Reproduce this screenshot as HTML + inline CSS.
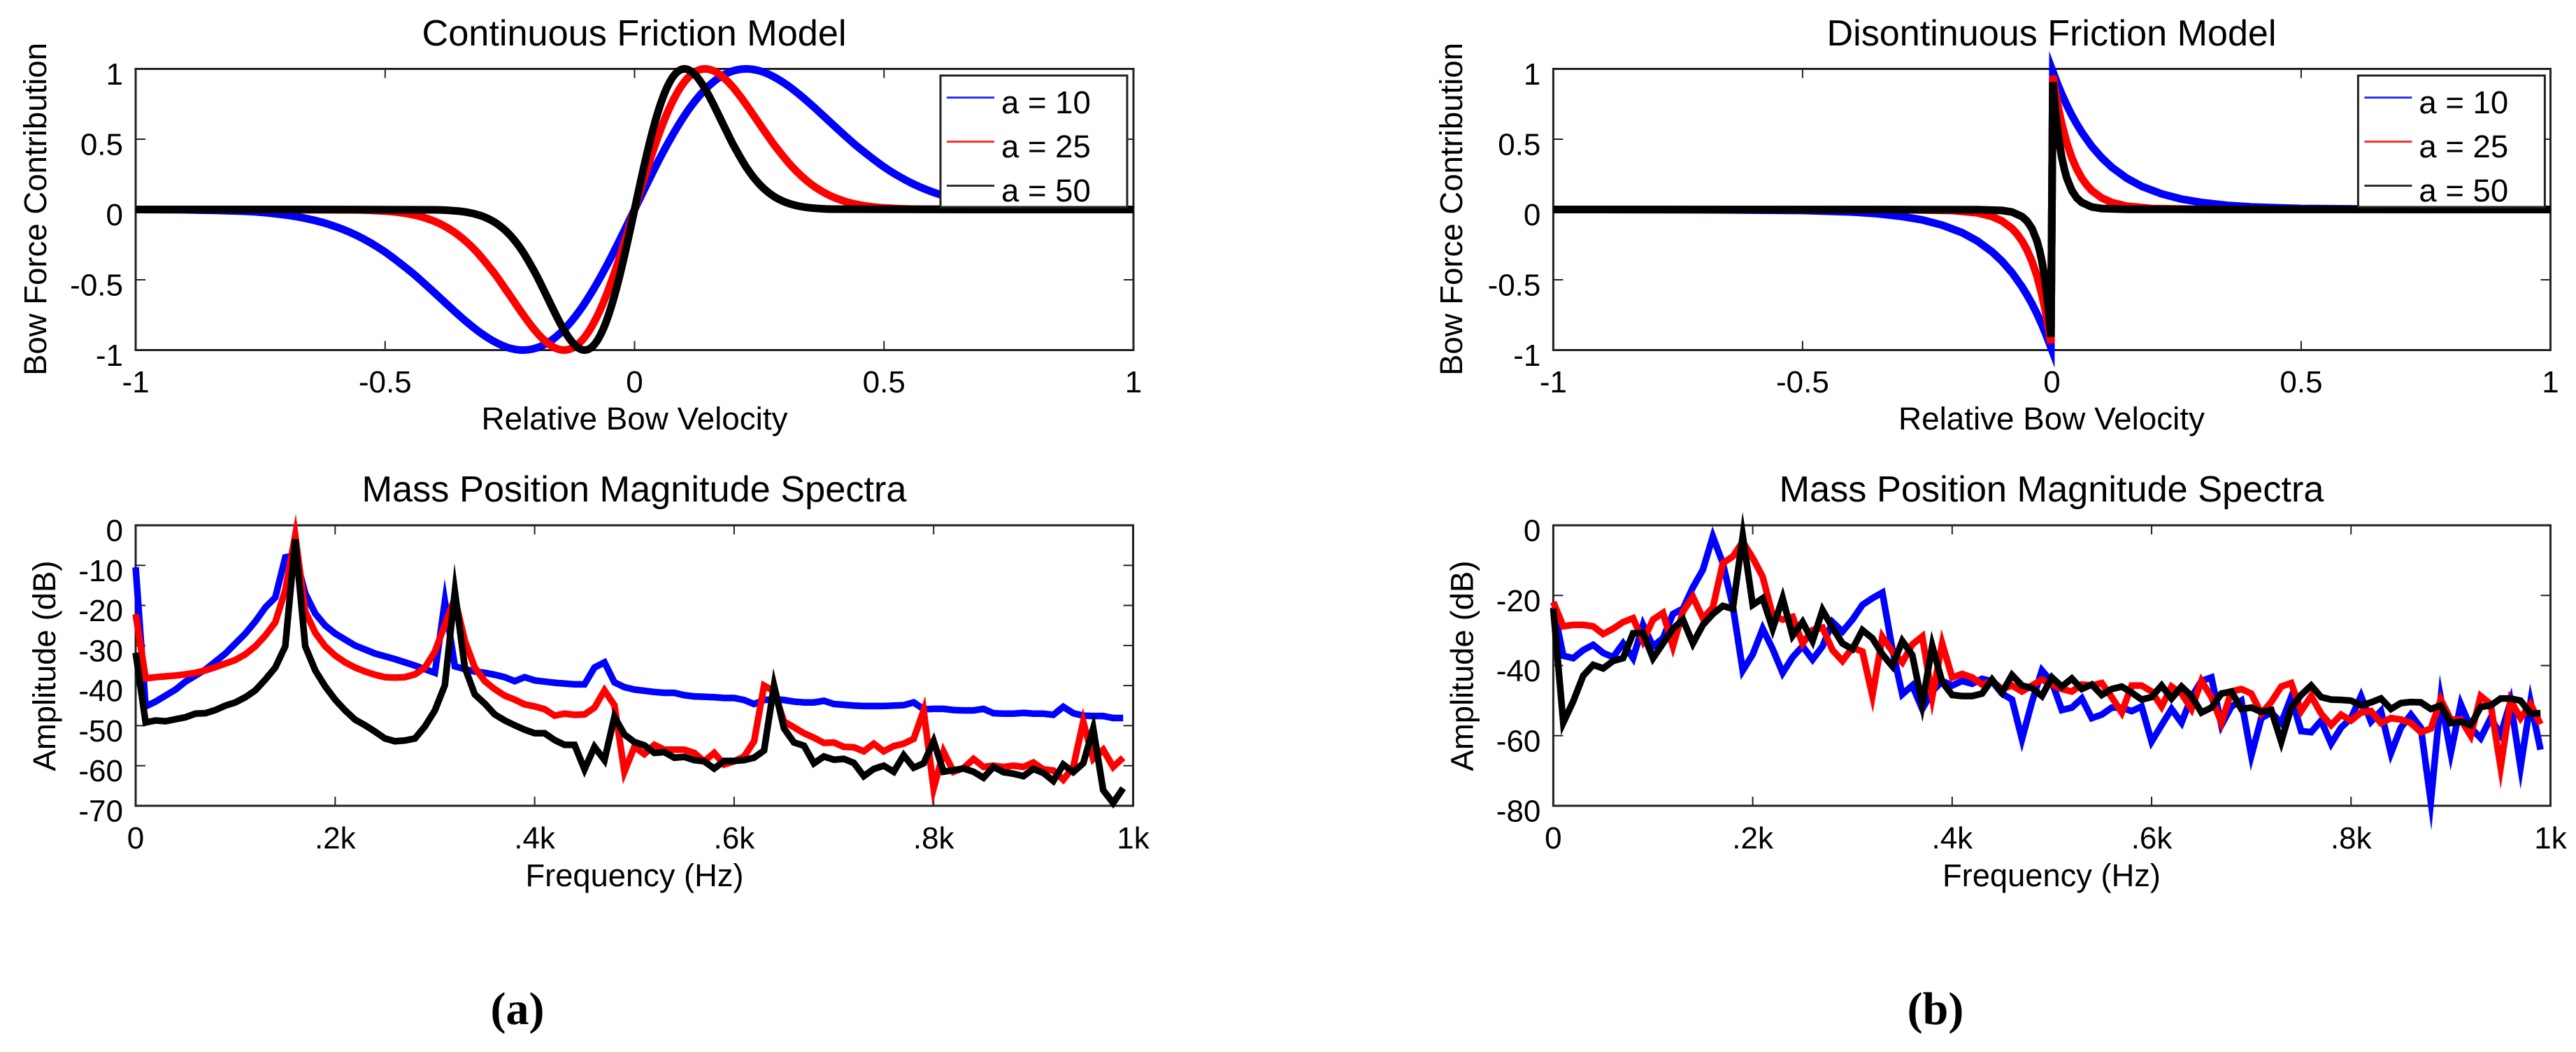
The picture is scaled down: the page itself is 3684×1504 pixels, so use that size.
<!DOCTYPE html>
<html lang="en">
<head>
<meta charset="utf-8">
<title>Friction Model Comparison</title>
<style>
html,body{margin:0;padding:0;background:#fff;width:3684px;height:1504px;overflow:hidden}
svg{display:block}
text{font-family:"Liberation Sans",Arial,sans-serif;fill:#000}
.title{font-size:52px;text-anchor:middle}
.axis-label{font-size:45.5px;text-anchor:middle}
.tick{font-size:44px}
.legend-text{font-size:45.5px}
.caption{font-family:"Liberation Serif",serif;font-weight:bold;font-size:66px;text-anchor:middle}
</style>
</head>
<body>
<svg id="figure" xmlns="http://www.w3.org/2000/svg" width="3684" height="1504" viewBox="0 0 3684 1504">
  <rect x="0" y="0" width="3684" height="1504" fill="#fff"/>

  <g id="plot-a-top"></g>
  <g id="plot-b-top"></g>
  <g id="plot-a-bottom"></g>
  <g id="plot-b-bottom"></g>

  <text class="title" x="907" y="65" textLength="607" lengthAdjust="spacingAndGlyphs">Continuous Friction Model</text>
  <text class="title" x="2934" y="65" textLength="643" lengthAdjust="spacingAndGlyphs">Disontinuous Friction Model</text>
  <text class="title" x="907" y="717" textLength="779" lengthAdjust="spacingAndGlyphs">Mass Position Magnitude Spectra</text>
  <text class="title" x="2934" y="717" textLength="779" lengthAdjust="spacingAndGlyphs">Mass Position Magnitude Spectra</text>

  <text class="axis-label" x="907.5" y="614" textLength="438" lengthAdjust="spacingAndGlyphs">Relative Bow Velocity</text>
  <text class="axis-label" x="2934" y="614" textLength="438" lengthAdjust="spacingAndGlyphs">Relative Bow Velocity</text>
  <text class="axis-label" x="907.5" y="1267" textLength="312" lengthAdjust="spacingAndGlyphs">Frequency (Hz)</text>
  <text class="axis-label" x="2934" y="1267" textLength="312" lengthAdjust="spacingAndGlyphs">Frequency (Hz)</text>

  <text class="axis-label" transform="translate(66,299) rotate(-90)" textLength="476" lengthAdjust="spacingAndGlyphs">Bow Force Contribution</text>
  <text class="axis-label" transform="translate(2091,299) rotate(-90)" textLength="476" lengthAdjust="spacingAndGlyphs">Bow Force Contribution</text>
  <text class="axis-label" transform="translate(79,952) rotate(-90)" textLength="301" lengthAdjust="spacingAndGlyphs">Amplitude (dB)</text>
  <text class="axis-label" transform="translate(2106.5,952) rotate(-90)" textLength="301" lengthAdjust="spacingAndGlyphs">Amplitude (dB)</text>

  <g>
    <rect x="1345" y="108" width="267" height="188" fill="#fff" stroke="#222" stroke-width="3"/>
    <line x1="1354" x2="1422" y1="139.5" y2="139.5" stroke="#3030ff" stroke-width="3"/>
    <text class="legend-text" x="1432" y="162">a = 10</text>
    <line x1="1354" x2="1422" y1="202.5" y2="202.5" stroke="#ff3030" stroke-width="3"/>
    <text class="legend-text" x="1432" y="225">a = 25</text>
    <line x1="1354" x2="1422" y1="265.5" y2="265.5" stroke="#303030" stroke-width="3"/>
    <text class="legend-text" x="1432" y="288">a = 50</text>
  </g>
  <g>
    <rect x="3372.4" y="108" width="267" height="188" fill="#fff" stroke="#222" stroke-width="3"/>
    <line x1="3381.4" x2="3449.4" y1="139.5" y2="139.5" stroke="#3030ff" stroke-width="3"/>
    <text class="legend-text" x="3459.4" y="162">a = 10</text>
    <line x1="3381.4" x2="3449.4" y1="202.5" y2="202.5" stroke="#ff3030" stroke-width="3"/>
    <text class="legend-text" x="3459.4" y="225">a = 25</text>
    <line x1="3381.4" x2="3449.4" y1="265.5" y2="265.5" stroke="#303030" stroke-width="3"/>
    <text class="legend-text" x="3459.4" y="288">a = 50</text>
  </g>

  <text class="caption" x="740" y="1464">(a)</text>
  <text class="caption" x="2768" y="1464">(b)</text>
</svg>

<script>
/* ---------- tick values and labels ---------- */
const velocityTicks = [-1, -0.5, 0, 0.5, 1];
const velocityTickLabels = ['-1', '-0.5', '0', '0.5', '1'];
const forceTicks = [1, 0.5, 0, -0.5, -1];
const forceTickLabels = ['1', '0.5', '0', '-0.5', '-1'];
const frequencyTicks = [0, 200, 400, 600, 800, 1000];
const frequencyTickLabels = ['0', '.2k', '.4k', '.6k', '.8k', '1k'];
const amplitudeTicksA = [0, -10, -20, -30, -40, -50, -60, -70];
const amplitudeTickLabelsA = ['0', '-10', '-20', '-30', '-40', '-50', '-60', '-70'];
const amplitudeTicksB = [0, -20, -40, -60, -80];
const amplitudeTickLabelsB = ['0', '-20', '-40', '-60', '-80'];

/* ---------- continuous friction curves ---------- */
const contVelocityA10 = [-1,-0.8944,-0.7826,-0.7267,-0.6708,-0.6149,-0.559,-0.5031,-0.4472,-0.4193,-0.3913,-0.3634,-0.3354,-0.3075,-0.2795,-0.2516,-0.2236,-0.1957,-0.1677,-0.1398,-0.1118,-0.0839,-0.0559,-0.028,0,0.028,0.0559,0.0839,0.1118,0.1398,0.1677,0.1957,0.2236,0.2516,0.2795,0.3075,0.3354,0.3634,0.3913,0.4193,0.4472,0.5031,0.559,0.6149,0.6708,0.7267,0.7826,0.8944,1];
const contForceA10 = [0,-0.0022,-0.0126,-0.0273,-0.055,-0.1034,-0.181,-0.295,-0.446,-0.5331,-0.624,-0.7155,-0.803,-0.8808,-0.943,-0.985,-1,-0.9838,-0.9334,-0.8476,-0.7275,-0.5763,-0.3995,-0.2045,0,0.2045,0.3995,0.5763,0.7275,0.8476,0.9334,0.9838,1,0.985,0.943,0.8808,0.803,0.7155,0.624,0.5331,0.446,0.295,0.181,0.1034,0.055,0.0273,0.0126,0.0022,0];
const contVelocityA25 = [-1,-0.5657,-0.495,-0.4596,-0.4243,-0.3889,-0.3536,-0.3182,-0.2828,-0.2652,-0.2475,-0.2298,-0.2121,-0.1945,-0.1768,-0.1591,-0.1414,-0.1237,-0.1061,-0.0884,-0.0707,-0.053,-0.0354,-0.0177,0,0.0177,0.0354,0.053,0.0707,0.0884,0.1061,0.1237,0.1414,0.1591,0.1768,0.1945,0.2121,0.2298,0.2475,0.2652,0.2828,0.3182,0.3536,0.3889,0.4243,0.4596,0.495,0.5657,1];
const contForceA25 = [0,-0.0022,-0.0126,-0.0273,-0.055,-0.1034,-0.181,-0.295,-0.446,-0.5331,-0.624,-0.7155,-0.803,-0.8808,-0.943,-0.985,-1,-0.9838,-0.9334,-0.8476,-0.7275,-0.5763,-0.3995,-0.2045,0,0.2045,0.3995,0.5763,0.7275,0.8476,0.9334,0.9838,1,0.985,0.943,0.8808,0.803,0.7155,0.624,0.5331,0.446,0.295,0.181,0.1034,0.055,0.0273,0.0126,0.0022,0];
const contVelocityA50 = [-1,-0.4,-0.35,-0.325,-0.3,-0.275,-0.25,-0.225,-0.2,-0.1875,-0.175,-0.1625,-0.15,-0.1375,-0.125,-0.1125,-0.1,-0.0875,-0.075,-0.0625,-0.05,-0.0375,-0.025,-0.0125,0,0.0125,0.025,0.0375,0.05,0.0625,0.075,0.0875,0.1,0.1125,0.125,0.1375,0.15,0.1625,0.175,0.1875,0.2,0.225,0.25,0.275,0.3,0.325,0.35,0.4,1];
const contForceA50 = [0,-0.0022,-0.0126,-0.0273,-0.055,-0.1034,-0.181,-0.295,-0.446,-0.5331,-0.624,-0.7155,-0.803,-0.8808,-0.943,-0.985,-1,-0.9838,-0.9334,-0.8476,-0.7275,-0.5763,-0.3995,-0.2045,0,0.2045,0.3995,0.5763,0.7275,0.8476,0.9334,0.9838,1,0.985,0.943,0.8808,0.803,0.7155,0.624,0.5331,0.446,0.295,0.181,0.1034,0.055,0.0273,0.0126,0.0022,0];

/* ---------- discontinuous friction curves ---------- */
const discVelocityA10 = [-1,-0.7,-0.5,-0.4,-0.35,-0.3,-0.26,-0.22,-0.18,-0.15,-0.12,-0.1,-0.08,-0.06,-0.05,-0.04,-0.03,-0.02,-0.01,-0.002,0.002,0.01,0.02,0.03,0.04,0.05,0.06,0.08,0.1,0.12,0.15,0.18,0.22,0.26,0.3,0.35,0.4,0.5,0.7,1];
const discForceA10 = [0,-0.001,-0.007,-0.018,-0.03,-0.05,-0.074,-0.111,-0.165,-0.223,-0.301,-0.368,-0.449,-0.549,-0.607,-0.67,-0.741,-0.819,-0.905,-0.98,0.98,0.905,0.819,0.741,0.67,0.607,0.549,0.449,0.368,0.301,0.223,0.165,0.111,0.074,0.05,0.03,0.018,0.007,0.001,0];
const discVelocityA25 = [-1,-0.3,-0.2,-0.15,-0.12,-0.1,-0.08,-0.07,-0.06,-0.05,-0.04,-0.03,-0.02,-0.015,-0.01,-0.005,-0.002,0.002,0.005,0.01,0.015,0.02,0.03,0.04,0.05,0.06,0.07,0.08,0.1,0.12,0.15,0.2,0.3,1];
const discForceA25 = [0,-0.001,-0.007,-0.024,-0.05,-0.082,-0.135,-0.174,-0.223,-0.287,-0.368,-0.472,-0.607,-0.687,-0.779,-0.882,-0.951,0.951,0.882,0.779,0.687,0.607,0.472,0.368,0.287,0.223,0.174,0.135,0.082,0.05,0.024,0.007,0.001,0];
const discVelocityA50 = [-1,-0.15,-0.1,-0.08,-0.06,-0.05,-0.04,-0.03,-0.025,-0.02,-0.015,-0.01,-0.0075,-0.005,-0.002,0.002,0.005,0.0075,0.01,0.015,0.02,0.025,0.03,0.04,0.05,0.06,0.08,0.1,0.15,1];
const discForceA50 = [0,-0.001,-0.007,-0.018,-0.05,-0.082,-0.135,-0.223,-0.287,-0.368,-0.472,-0.607,-0.687,-0.779,-0.905,0.905,0.779,0.687,0.607,0.472,0.368,0.287,0.223,0.135,0.082,0.05,0.018,0.007,0.001,0];

/* ---------- spectra ---------- */
const spectrumFrequency = [0,10,20,30,40,50,60,70,80,90,100,110,120,130,140,150,160,170,180,190,200,210,220,230,240,250,260,270,280,290,300,310,320,330,340,350,360,370,380,390,400,410,420,430,440,450,460,470,480,490,500,510,520,530,540,550,560,570,580,590,600,610,620,630,640,650,660,670,680,690,700,710,720,730,740,750,760,770,780,790,800,810,820,830,840,850,860,870,880,890,900,910,920,930,940,950,960,970,980,990];

const spectrumContA10 = [-10.5,-45.2,-44,-42.5,-41,-39,-37.5,-36,-34,-32,
-29.5,-27,-24,-20.5,-18,-8,-7.5,-17,-22,-25,
-27,-28.5,-30,-31,-32,-32.7,-33.4,-34.2,-35,-35.9,
-36.8,-19,-35.2,-35.9,-36.5,-36.8,-37.3,-37.9,-38.9,-37.9,
-38.7,-39,-39.3,-39.5,-39.7,-39.7,-35.5,-34.2,-39.2,-40.4,
-41,-41.3,-41.6,-41.8,-41.8,-42.4,-42.7,-42.8,-42.9,-43.1,
-43.1,-43.6,-44.6,-43.6,-43.4,-43.6,-44,-44.2,-44.2,-43.8,
-44.6,-44.8,-45,-45.1,-45.1,-45.1,-45,-44.9,-44.2,-45.9,
-45.8,-45.8,-46.1,-46.2,-46.2,-45.8,-46.9,-47,-47,-46.8,
-47,-47,-47.3,-45.3,-46.9,-47.5,-47.6,-47.6,-48.1,-48.1];

const spectrumContA25 = [-22.2,-38.2,-37.9,-37.7,-37.5,-37.2,-36.8,-36.2,-35.4,-34.5,
-33.6,-32.2,-30.2,-27.5,-24.2,-16.2,-2.5,-21.5,-26.8,-30.2,
-32.5,-34.2,-35.5,-36.5,-37.3,-37.9,-38,-37.9,-37.2,-35.5,
-31.5,-24.8,-18.2,-28.8,-35.5,-38.9,-40.9,-42.5,-43.5,-44.7,
-45.2,-45.9,-47.5,-47,-47.3,-47.2,-45.5,-41.2,-44.9,-61.5,
-55.3,-57.1,-54.8,-56,-56,-56,-56.8,-58.9,-56.8,-59.7,
-58.9,-57.7,-53.9,-40,-41.4,-49,-50.4,-51.9,-53,-54.3,
-54.2,-55.3,-55.4,-56.4,-54.5,-56.4,-55.1,-54.5,-53.3,-46.2,
-65.7,-56.5,-61.5,-60.6,-58.3,-60.3,-60,-60.3,-60,-60.3,
-59.2,-60.9,-61.2,-63.5,-60.3,-49,-58.3,-56,-60.3,-58];

const spectrumContA50 = [-31.8,-49.2,-48.7,-48.9,-48.4,-47.9,-47,-46.9,-46.1,-45,
-44.2,-42.9,-41.2,-38.5,-35.5,-30.2,-3.5,-30.2,-36.2,-40.2,
-43.5,-46.2,-48.5,-49.9,-51.5,-53.2,-53.9,-53.7,-53.2,-50.2,
-46.2,-39.9,-16.5,-35.5,-42.2,-44.5,-47.2,-48.7,-49.9,-51,
-51.9,-51.9,-53.6,-54.8,-54.8,-60.9,-55.3,-58.6,-47.8,-52.2,
-54.1,-54.9,-56.8,-56.6,-58,-57.8,-58.6,-58.9,-60.7,-58.8,
-58.8,-58.6,-58,-56.2,-40,-50.7,-54.2,-55,-59.4,-57.7,
-58.5,-58.3,-59.3,-62.6,-60.8,-60,-61.5,-57.4,-60.5,-59.4,
-53.9,-61.5,-61.1,-60.7,-61.5,-63,-60.3,-61.6,-62,-62.6,
-60.8,-61.8,-63.8,-59.7,-61.6,-59.4,-50.7,-66.1,-69.3,-65.6];

const spectrumDiscA10 = [-23.4,-37.2,-37.9,-35.6,-34.1,-36.4,-37.6,-33.7,-37.9,-28.4,
-34.5,-32.2,-25.3,-23.8,-17.7,-12.7,-3.2,-10.8,-23,-41.4,
-36.8,-29.5,-35.3,-42.1,-37.6,-34.5,-38.3,-34.5,-27.6,-30.3,
-26.9,-22.7,-20.8,-19.2,-35.3,-48.2,-45.7,-52.4,-47.4,-44.4,
-45.7,-44.4,-45.2,-43.8,-44.5,-48,-49.7,-61,-50.4,-41.4,
-44.7,-52.7,-52,-49.4,-55,-54,-52,-52,-53,-51.7,
-61.7,-57,-52.4,-56.3,-49,-44.4,-43.4,-57,-51.7,-50,
-65.7,-55,-53.4,-56.4,-49,-58.7,-59,-55.7,-62.3,-57.7,
-55,-48.7,-56,-53,-65,-57.7,-54,-57.7,-78.8,-49.4,
-65,-51,-57.7,-60.7,-55,-59.7,-50.4,-69,-50.4,-64];

const spectrumDiscA25 = [-21.9,-28.8,-28.4,-28.4,-28.8,-31,-29.5,-27.6,-26.5,-33,
-26.9,-25,-34.5,-24.6,-20.4,-26.5,-23.4,-10.8,-8.9,-4.7,
-9.3,-14.7,-25.7,-26.9,-26.1,-33.7,-29.9,-29.2,-35.6,-38.7,
-34.9,-36,-48.6,-31.8,-36,-39.1,-34,-31.7,-49,-33.7,
-43.4,-42.4,-43.4,-45.4,-44.4,-46.7,-45.7,-47.4,-45.7,-44,
-45.4,-46.7,-47.4,-45.4,-45.7,-45,-49,-53.4,-45.7,-45.7,
-47.4,-51.7,-46,-48,-52.4,-44.4,-49,-56.3,-47.4,-46.7,
-48,-53.7,-50.4,-46,-45,-53,-48.7,-53.7,-57,-54,
-55.7,-53.4,-53,-56.4,-55,-55.4,-56.4,-59,-58,-49.7,
-55.4,-55.4,-60,-48.7,-51,-69,-50,-55,-51,-56.7];

const spectrumDiscA50 = [-23.8,-56.3,-50.2,-42.9,-39.8,-40.8,-38.7,-37.9,-30.8,-30.7,
-37.9,-33.7,-29.5,-26.9,-33.7,-28.4,-25.3,-23,-23.8,-3,
-22.7,-20.8,-29.5,-20.8,-31.5,-27.6,-33,-24.2,-29.2,-33.7,
-35.3,-29.9,-32.2,-36.8,-40.2,-33,-37,-51,-34.4,-44.7,
-48.4,-48.7,-48.7,-48,-44,-47.7,-42.7,-45.7,-46.4,-48.7,
-43.4,-46,-43.7,-46.7,-45.4,-48.4,-46.7,-46,-47.7,-49.7,
-49,-45.7,-49.4,-46,-48.7,-53.4,-52,-48,-47.4,-52.4,
-52,-53.2,-52.7,-61.7,-52,-48.4,-45.7,-49,-49.7,-49.8,
-50,-51.4,-50.5,-49.4,-52.4,-50.7,-50.4,-50.5,-52.4,-51.4,
-56.4,-56,-57,-51.8,-51.4,-49.4,-49.4,-50,-53.7,-53.6];

/* ---------- drawing ---------- */
const SVG_NS = 'http://www.w3.org/2000/svg';

function linearScale(d0, d1, r0, r1) {
  return function (v) { return r0 + (v - d0) * (r1 - r0) / (d1 - d0); };
}

function smoothPath(pts) {
  let d = 'M' + pts[0][0].toFixed(2) + ' ' + pts[0][1].toFixed(2);
  for (let i = 0; i < pts.length - 1; i++) {
    const p0 = pts[Math.max(0, i - 1)], p1 = pts[i], p2 = pts[i + 1], p3 = pts[Math.min(pts.length - 1, i + 2)];
    const h = p2[0] - p1[0];
    const m1 = (p2[1] - p0[1]) / Math.max(1e-6, p2[0] - p0[0]);
    const m2 = (p3[1] - p1[1]) / Math.max(1e-6, p3[0] - p1[0]);
    d += 'C' + (p1[0] + h / 3).toFixed(2) + ' ' + (p1[1] + m1 * h / 3).toFixed(2) + ' ' +
         (p2[0] - h / 3).toFixed(2) + ' ' + (p2[1] - m2 * h / 3).toFixed(2) + ' ' +
         p2[0].toFixed(2) + ' ' + p2[1].toFixed(2);
  }
  return d;
}

function straightPath(pts) {
  return 'M' + pts.map(function (p) { return p[0].toFixed(2) + ' ' + p[1].toFixed(2); }).join('L');
}

function drawAxes(group, box, xs, ys, xTicks, xLabels, yTicks, yLabels, xBase) {
  xTicks.forEach(function (t, i) {
    const px = xs(t);
    const top = document.createElementNS(SVG_NS, 'line');
    
    
    top.setAttribute('x1', px); top.setAttribute('x2', px);
    top.setAttribute('y1', box.top); top.setAttribute('y2', box.top + 13);
    top.setAttribute('stroke', '#222'); top.setAttribute('stroke-width', '2');
    group.appendChild(top);

    const bottom = document.createElementNS(SVG_NS, 'line');
    
    
    bottom.setAttribute('x1', px); bottom.setAttribute('x2', px);
    bottom.setAttribute('y1', box.bottom); bottom.setAttribute('y2', box.bottom - 13);
    bottom.setAttribute('stroke', '#222'); bottom.setAttribute('stroke-width', '2');
    group.appendChild(bottom);

    const label = document.createElementNS(SVG_NS, 'text');
    
    
    label.setAttribute('class', 'tick');
    label.setAttribute('x', px);
    label.setAttribute('y', xBase);
    label.setAttribute('text-anchor', 'middle');
    label.textContent = xLabels[i];
    group.appendChild(label);
  });

  yTicks.forEach(function (t, i) {
    const py = ys(t);
    const left = document.createElementNS(SVG_NS, 'line');
    
    
    left.setAttribute('x1', box.left); left.setAttribute('x2', box.left + 14);
    left.setAttribute('y1', py); left.setAttribute('y2', py);
    left.setAttribute('stroke', '#222'); left.setAttribute('stroke-width', '2');
    group.appendChild(left);

    const right = document.createElementNS(SVG_NS, 'line');
    
    
    right.setAttribute('x1', box.right); right.setAttribute('x2', box.right - 14);
    right.setAttribute('y1', py); right.setAttribute('y2', py);
    right.setAttribute('stroke', '#222'); right.setAttribute('stroke-width', '2');
    group.appendChild(right);

    const label = document.createElementNS(SVG_NS, 'text');
    
    
    label.setAttribute('class', 'tick');
    label.setAttribute('x', box.left - 18);
    label.setAttribute('y', py + 22.5);
    label.setAttribute('text-anchor', 'end');
    label.textContent = yLabels[i];
    group.appendChild(label);
  });

  const frame = document.createElementNS(SVG_NS, 'rect');
  
  
  frame.setAttribute('x', box.left); frame.setAttribute('y', box.top);
  frame.setAttribute('width', box.right - box.left);
  frame.setAttribute('height', box.bottom - box.top);
  frame.setAttribute('fill', 'none');
  frame.setAttribute('stroke', '#222');
  frame.setAttribute('stroke-width', '3');
  group.appendChild(frame);
}

function drawLine(group, name, color, width, xs, ys, xValues, yValues, smooth) {
  const pts = xValues.map(function (x, i) { return [xs(x), ys(yValues[i])]; });
  const path = document.createElementNS(SVG_NS, 'path');
  
  
  path.setAttribute('d', smooth ? smoothPath(pts) : straightPath(pts));
  path.setAttribute('fill', 'none');
  path.setAttribute('stroke', color);
  path.setAttribute('stroke-width', width);
  path.setAttribute('stroke-linejoin', 'miter');
  path.setAttribute('stroke-miterlimit', '10');
  path.setAttribute('stroke-linecap', 'butt');
  group.appendChild(path);
}

const boxAT = { left: 194, right: 1621, top: 98.5, bottom: 500.5 };
const boxBT = { left: 2221.4, right: 3647.5, top: 98.5, bottom: 500.5 };
const boxAB = { left: 194, right: 1620.5, top: 751, bottom: 1152 };
const boxBB = { left: 2221.4, right: 3647.5, top: 751, bottom: 1152 };

(function () {
  const g = document.getElementById('plot-a-top');
  const xs = linearScale(-1, 1, boxAT.left, boxAT.right);
  const ys = linearScale(-1, 1, boxAT.bottom, boxAT.top);
  drawAxes(g, boxAT, xs, ys, velocityTicks, velocityTickLabels, forceTicks, forceTickLabels, 561);
  drawLine(g, 'continuous-curve-a10', '#0000ff', 11, xs, ys, contVelocityA10, contForceA10, true);
  drawLine(g, 'continuous-curve-a25', '#ff0000', 11, xs, ys, contVelocityA25, contForceA25, true);
  drawLine(g, 'continuous-curve-a50', '#000000', 11, xs, ys, contVelocityA50, contForceA50, true);
})();

(function () {
  const g = document.getElementById('plot-b-top');
  const xs = linearScale(-1, 1, boxBT.left, boxBT.right);
  const ys = linearScale(-1, 1, boxBT.bottom, boxBT.top);
  drawAxes(g, boxBT, xs, ys, velocityTicks, velocityTickLabels, forceTicks, forceTickLabels, 561);
  drawLine(g, 'discontinuous-curve-a10', '#0000ff', 11, xs, ys, discVelocityA10, discForceA10, false);
  drawLine(g, 'discontinuous-curve-a25', '#ff0000', 11, xs, ys, discVelocityA25, discForceA25, false);
  drawLine(g, 'discontinuous-curve-a50', '#000000', 11, xs, ys, discVelocityA50, discForceA50, false);
})();

(function () {
  const g = document.getElementById('plot-a-bottom');
  const xs = linearScale(0, 1000, boxAB.left, boxAB.right);
  const ys = linearScale(-70, 0, boxAB.bottom, boxAB.top);
  drawAxes(g, boxAB, xs, ys, frequencyTicks, frequencyTickLabels, amplitudeTicksA, amplitudeTickLabelsA, 1213);
  drawLine(g, 'continuous-spectrum-a10', '#0000ff', 9.5, xs, ys, spectrumFrequency, spectrumContA10, false);
  drawLine(g, 'continuous-spectrum-a25', '#ff0000', 9.5, xs, ys, spectrumFrequency, spectrumContA25, false);
  drawLine(g, 'continuous-spectrum-a50', '#000000', 9.5, xs, ys, spectrumFrequency, spectrumContA50, false);
})();

(function () {
  const g = document.getElementById('plot-b-bottom');
  const xs = linearScale(0, 1000, boxBB.left, boxBB.right);
  const ys = linearScale(-80, 0, boxBB.bottom, boxBB.top);
  drawAxes(g, boxBB, xs, ys, frequencyTicks, frequencyTickLabels, amplitudeTicksB, amplitudeTickLabelsB, 1213);
  drawLine(g, 'discontinuous-spectrum-a10', '#0000ff', 9.5, xs, ys, spectrumFrequency, spectrumDiscA10, false);
  drawLine(g, 'discontinuous-spectrum-a25', '#ff0000', 9.5, xs, ys, spectrumFrequency, spectrumDiscA25, false);
  drawLine(g, 'discontinuous-spectrum-a50', '#000000', 9.5, xs, ys, spectrumFrequency, spectrumDiscA50, false);
})();
</script>
</body>
</html>
